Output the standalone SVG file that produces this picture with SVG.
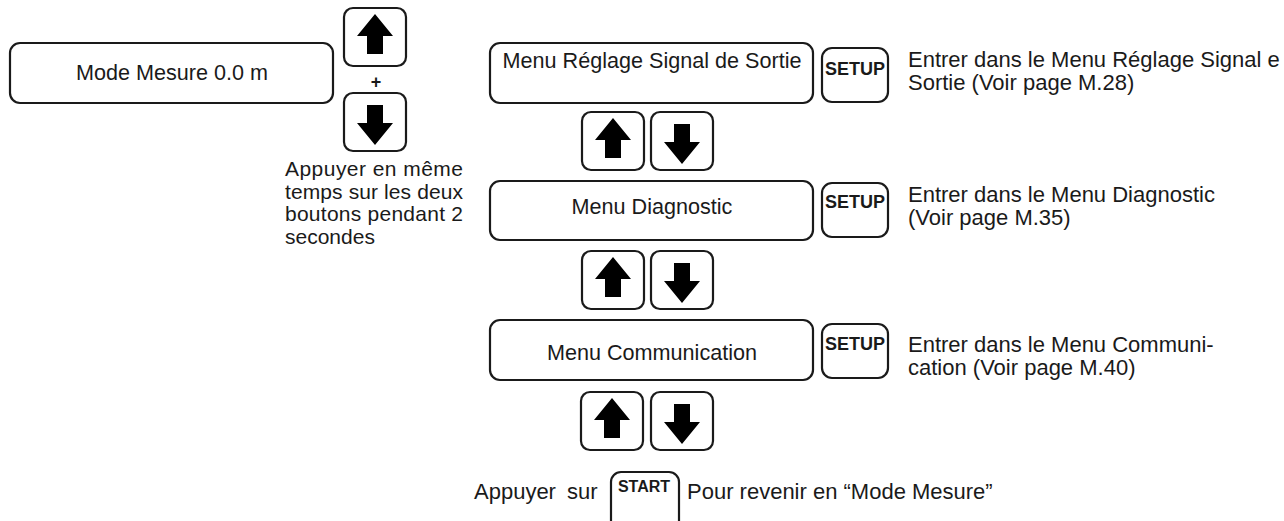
<svg xmlns="http://www.w3.org/2000/svg" xmlns:xlink="http://www.w3.org/1999/xlink" width="1284" height="521" viewBox="0 0 1284 521">
<style>
.box{fill:#fff;stroke:#1a1a1a;stroke-width:2.2}
.t{font-family:"Liberation Sans",Arial,sans-serif;font-size:21.6px;fill:#1a1a1a}
.r{font-size:22px}
.l{font-size:21px}
.c{text-anchor:middle}
.b{font-family:"Liberation Sans",Arial,sans-serif;font-weight:bold;font-size:18px;fill:#1a1a1a;text-anchor:middle}
.ar{fill:#000}
</style>
<defs>
<g id="upbtn">
<rect class="box" x="0" y="0" width="62" height="58" rx="9"/>
<path class="ar" d="M31,6 L49,28 L39,28 L39,46 L23,46 L23,28 L13,28 Z"/>
</g>
<g id="dnbtn">
<rect class="box" x="0" y="0" width="62" height="58" rx="9"/>
<path class="ar" d="M23,12 L39,12 L39,30 L49,30 L31,52 L13,30 L23,30 Z"/>
</g>
</defs>
<rect width="1284" height="521" fill="#fff"/>
<g id="mode-mesure">
<rect class="box" x="10" y="43" width="323" height="60" rx="10"/>
<text class="t c" x="172" y="80">Mode Mesure 0.0 m</text>
</g>
<g id="both-buttons">
<use xlink:href="#upbtn" x="344" y="8"/>
<text class="b" x="376" y="88">+</text>
<use xlink:href="#dnbtn" x="344" y="93"/>
<text class="t l" x="285" y="176" textLength="178" lengthAdjust="spacing">Appuyer en même</text>
<text class="t l" x="285" y="198.5" textLength="178" lengthAdjust="spacing">temps sur les deux</text>
<text class="t l" x="285" y="221" textLength="178" lengthAdjust="spacing">boutons pendant 2</text>
<text class="t l" x="285" y="243.5">secondes</text>
</g>
<g id="menu-reglage">
<rect class="box" x="490" y="43" width="323" height="60" rx="10"/>
<text class="t c" x="652" y="68">Menu Réglage Signal de Sortie</text>
</g>
<g id="setup-1">
<rect class="box" x="822" y="48" width="66" height="54" rx="10"/>
<text class="b" x="855" y="75">SETUP</text>
<text class="t r" x="908" y="67">Entrer dans le Menu Réglage Signal e</text>
<text class="t r" x="908" y="90">Sortie (Voir page M.28)</text>
</g>
<g id="nav-1">
<use xlink:href="#upbtn" x="582" y="112"/>
<use xlink:href="#dnbtn" x="651" y="112"/>
</g>
<g id="menu-diagnostic">
<rect class="box" x="490" y="181" width="323" height="59" rx="10"/>
<text class="t c" x="652" y="214">Menu Diagnostic</text>
</g>
<g id="setup-2">
<rect class="box" x="822" y="183" width="66" height="54" rx="10"/>
<text class="b" x="855" y="208">SETUP</text>
<text class="t r" x="908" y="202">Entrer dans le Menu Diagnostic</text>
<text class="t r" x="908" y="224.5">(Voir page M.35)</text>
</g>
<g id="nav-2">
<use xlink:href="#upbtn" x="582" y="251"/>
<use xlink:href="#dnbtn" x="651" y="251"/>
</g>
<g id="menu-communication">
<rect class="box" x="490" y="320" width="323" height="60" rx="10"/>
<text class="t c" x="652" y="360">Menu Communication</text>
</g>
<g id="setup-3">
<rect class="box" x="822" y="324" width="66" height="54" rx="10"/>
<text class="b" x="855" y="350">SETUP</text>
<text class="t r" x="908" y="352">Entrer dans le Menu Communi-</text>
<text class="t r" x="908" y="374.5">cation (Voir page M.40)</text>
</g>
<g id="nav-3">
<use xlink:href="#upbtn" x="581" y="392"/>
<use xlink:href="#dnbtn" x="651" y="392"/>
</g>
<g id="start">
<text class="t r" x="474" y="498.5" style="word-spacing:5px">Appuyer sur</text>
<rect class="box" x="611" y="472" width="68" height="62" rx="10"/>
<text class="b" x="644" y="492" style="font-size:16px">START</text>
<text class="t r" x="687" y="498.5">Pour revenir en “Mode Mesure”</text>
</g>
<g id="connectors"></g>
</svg>
